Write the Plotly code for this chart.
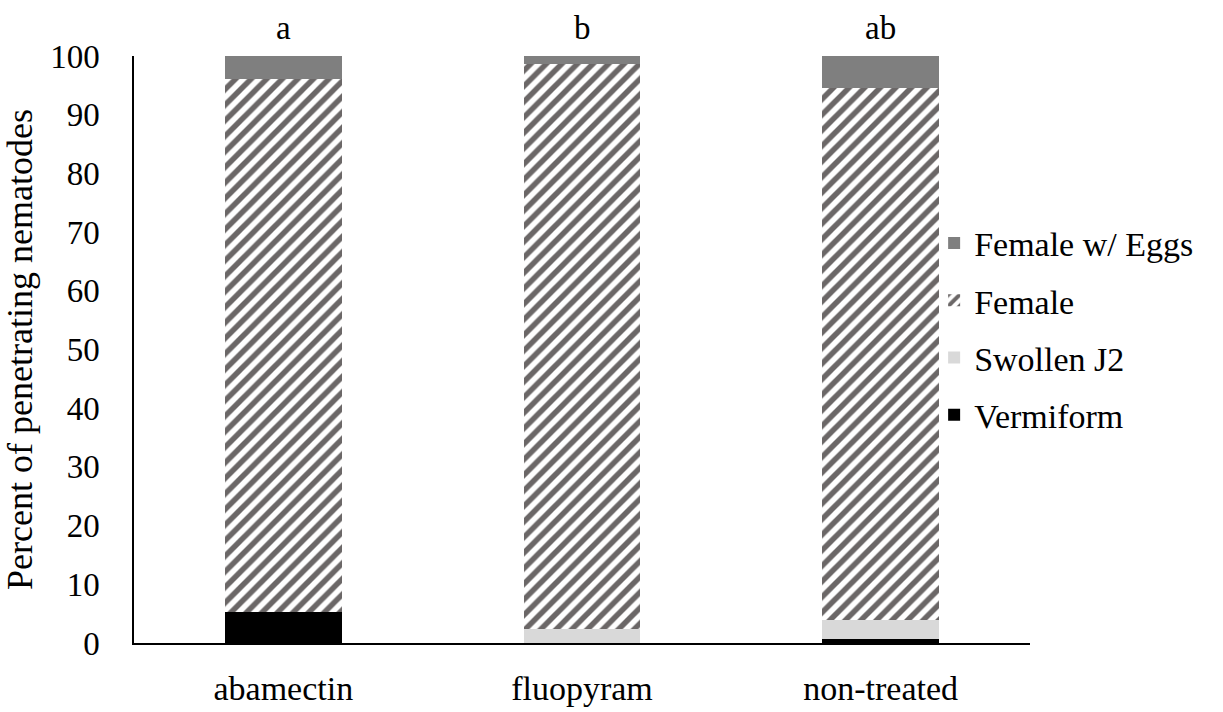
import plotly.graph_objects as go

categories = ["abamectin", "fluopyram", "non-treated"]
vermiform = [5.2, 0.0, 0.7]
swollen_j2 = [0.0, 2.4, 3.3]
female = [90.9, 96.2, 90.5]
female_eggs = [3.9, 1.4, 5.5]
letters = ["a", "b", "ab"]
y_ticks = list(range(0, 101, 10))

font_family = "Liberation Serif"

fig = go.Figure()
fig.add_trace(go.Bar(x=categories, y=vermiform, name="Vermiform",
                     marker=dict(color="#000000", line=dict(width=0)),
                     legendgroup="g4", legendrank=4))
fig.add_trace(go.Bar(x=categories, y=swollen_j2, name="Swollen J2",
                     marker=dict(color="#d9d9d9", line=dict(width=0)),
                     legendgroup="g3", legendrank=3))
fig.add_trace(go.Bar(x=categories, y=female, name="Female",
                     marker=dict(color="#ffffff", line=dict(width=0),
                                 pattern=dict(shape="/", fgcolor="#6b6767", bgcolor="#ffffff",
                                              size=11, solidity=0.5, fgopacity=1)),
                     legendgroup="g2", legendrank=2))
fig.add_trace(go.Bar(x=categories, y=female_eggs, name="Female w/ Eggs",
                     marker=dict(color="#7f7f7f", line=dict(width=0)),
                     legendgroup="g1", legendrank=1))

for c, t in zip(categories, letters):
    fig.add_annotation(x=c, y=100, text=t, showarrow=False, yanchor="bottom", yshift=8,
                       font=dict(size=33, color="black", family=font_family))

fig.update_layout(
    barmode="stack",
    bargap=0.61,
    width=1223, height=712,
    margin=dict(l=134, r=193, t=56, b=69, autoexpand=False),
    plot_bgcolor="white", paper_bgcolor="white",
    font=dict(family=font_family, size=33, color="black"),
    showlegend=True,
    legend=dict(traceorder="grouped", x=0.893, xanchor="left", y=0.535, yanchor="middle",
                font=dict(size=34, family=font_family), tracegroupgap=10,
                itemwidth=30, bgcolor="rgba(0,0,0,0)"),
)
fig.update_xaxes(showline=True, linecolor="black", linewidth=2, ticks="",
                 tickfont=dict(size=34), showgrid=False, ticklabelstandoff=14, automargin=False)
fig.update_yaxes(range=[0, 100], tickvals=y_ticks, showline=True, linecolor="black", linewidth=1.5,
                 ticks="", showgrid=False, zeroline=False, tickfont=dict(size=33),
                 ticklabelstandoff=26, automargin=False,
                 title=dict(text="Percent of penetrating nematodes", font=dict(size=36), standoff=12))
fig.write_html("out.html")
